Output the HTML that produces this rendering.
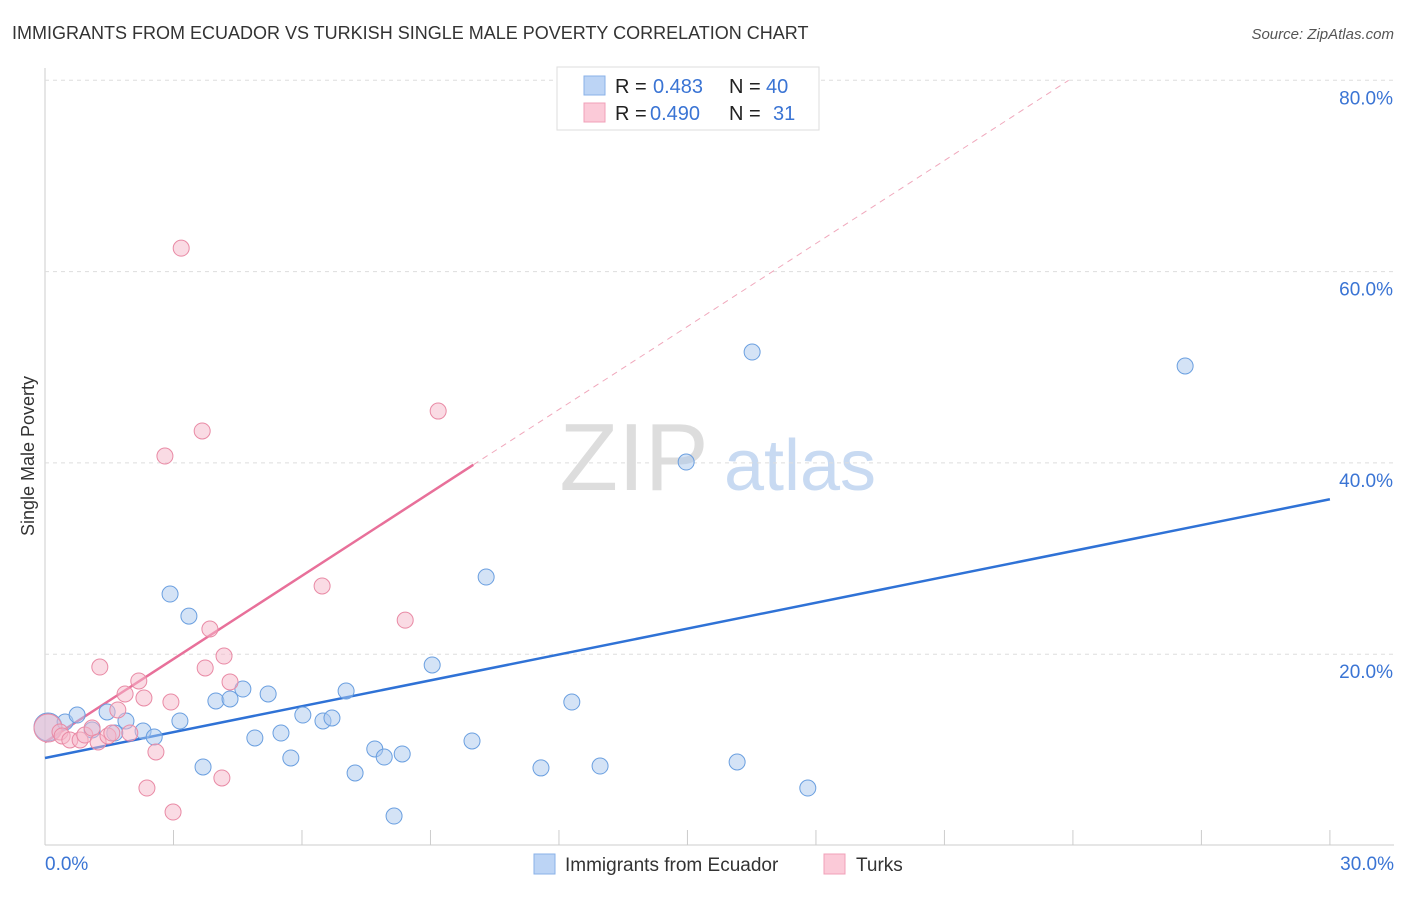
<!DOCTYPE html>
<html><head><meta charset="utf-8"><style>
body{margin:0;background:#fff;font-family:"Liberation Sans",sans-serif;}
svg text{font-family:"Liberation Sans",sans-serif;}
</style></head><body>
<svg id="c" width="1406" height="892" xmlns="http://www.w3.org/2000/svg">
<text x="12" y="39" font-size="18" fill="#333">IMMIGRANTS FROM ECUADOR VS TURKISH SINGLE MALE POVERTY CORRELATION CHART</text>
<text x="1394" y="39" font-size="15" fill="#555" font-style="italic" text-anchor="end">Source: ZipAtlas.com</text>
<text x="634" y="490" font-size="96" fill="#ddd" font-family="Liberation Serif" text-anchor="middle">ZIP</text>
<text x="800" y="490" font-size="72" fill="#c8daf2" text-anchor="middle">atlas</text>
<text x="34" y="456" font-size="18" fill="#333" text-anchor="middle" transform="rotate(-90 34 456)">Single Male Poverty</text>
<g id="grid"></g><g id="lines"></g><g id="pts"></g>
<g>
<rect x="557" y="67" width="262" height="63" fill="#fff" stroke="#ddd"/>
<rect x="584" y="76" width="21" height="19" fill="#bcd4f5" stroke="#8ab2e8"/>
<text x="615" y="93" font-size="20" fill="#222">R = </text><text x="653" y="93" font-size="20" fill="#3a74d4">0.483</text>
<text x="729" y="93" font-size="20" fill="#222">N = </text><text x="766" y="93" font-size="20" fill="#3a74d4">40</text>
<rect x="584" y="103" width="21" height="19" fill="#fbcad8" stroke="#f0a0b8"/>
<text x="615" y="120" font-size="20" fill="#222">R = </text><text x="650" y="120" font-size="20" fill="#3a74d4">0.490</text>
<text x="729" y="120" font-size="20" fill="#222">N = </text><text x="773" y="120" font-size="20" fill="#3a74d4">31</text>
</g>
<g>
<rect x="534" y="854" width="21" height="20" fill="#bcd4f5" stroke="#8ab2e8"/>
<text x="565" y="871" font-size="19" fill="#333">Immigrants from Ecuador</text>
<rect x="824" y="854" width="21" height="20" fill="#fbcad8" stroke="#f0a0b8"/>
<text x="856" y="871" font-size="19" fill="#333">Turks</text>
</g>
</svg>
<script>
const blueX=[0.07,0.47,0.75,1.10,1.45,1.63,1.89,2.29,2.55,2.92,3.15,3.36,3.69,3.99,4.32,4.62,4.90,5.21,5.51,5.74,6.02,6.49,6.70,7.03,7.24,7.70,7.92,8.34,8.15,9.04,9.97,10.30,11.58,12.30,12.96,14.97,16.16,16.51,17.81,26.62];
const blueY=[12.39,12.91,13.64,12.08,13.96,11.76,13.02,11.97,11.34,26.29,13.02,23.98,8.21,15.11,15.32,16.36,11.24,15.84,11.76,9.15,13.64,13.02,13.33,16.15,7.58,10.09,9.25,9.57,3.08,18.87,10.93,28.07,8.11,15.00,8.31,40.09,8.73,51.59,6.01,50.13];
const pinkX=[0.07,0.35,0.40,0.58,0.82,0.93,1.10,1.24,1.28,1.47,1.56,1.70,1.87,1.98,2.19,2.31,2.38,2.59,2.80,2.94,2.99,3.18,3.67,3.74,3.85,4.13,4.18,4.32,6.47,8.41,9.18];
const pinkY=[12.28,11.87,11.45,11.03,11.03,11.55,12.28,10.82,18.66,11.45,11.76,14.17,15.84,11.76,17.20,15.42,6.01,9.78,40.72,15.00,3.50,62.45,43.34,18.56,22.63,7.06,19.81,17.10,27.13,23.56,45.42];
const blueTrend=[[0,9.15],[30,36.2]];
const pinkTrend=[[0,10.8],[10.0,39.8]];
const pinkDash=[[10.0,39.8],[23.9,80]];
const yTicks=[20,40,60,80];
const xTickVals=[3,6,9,12,15,18,21,24,27,30];
const sx=v=>45+v*42.83, sy=v=>845.5-v*9.565;
const NS="http://www.w3.org/2000/svg";
function mk(p,t,a){const e=document.createElementNS(NS,t);for(const k in a)e.setAttribute(k,a[k]);p.appendChild(e);return e;}
const g=document.getElementById('grid');
const ax=mk(g,'line',{x1:45,y1:68,x2:45,y2:845,stroke:'#ccc'});

const bx=mk(g,'line',{x1:45,y1:845,x2:1394,y2:845,stroke:'#ccc'});

yTicks.forEach(v=>{const l=mk(g,'line',{x1:45,y1:sy(v),x2:1394,y2:sy(v),stroke:'#ddd','stroke-dasharray':'4,4'});

const t=mk(g,'text',{x:1393,y:sy(v)+24,'font-size':19,fill:'#3a74d4','text-anchor':'end'});t.textContent=v.toFixed(1)+'%';
});
xTickVals.forEach(v=>{const l=mk(g,'line',{x1:sx(v),y1:830,x2:sx(v),y2:845,stroke:'#ccc'});
});
const t0=mk(g,'text',{x:45,y:870,'font-size':19,fill:'#3a74d4'});t0.textContent='0.0%';

const t1=mk(g,'text',{x:1394,y:870,'font-size':19,fill:'#3a74d4','text-anchor':'end'});t1.textContent='30.0%';

const pg=document.getElementById('pts');
function pts(X,Y,fill,stroke,name){X.forEach((x,i)=>{const c=mk(pg,'circle',{cx:sx(x),cy:sy(Y[i]),r:i===0?14:8,fill:fill,'fill-opacity':0.5,stroke:stroke,'stroke-width':1});
});}
pts(blueX,blueY,'#a9c8ee','#6a9fe0','ecuador-point');
pts(pinkX,pinkY,'#f6b8ca','#e98aa5','turks-point');
const lg=document.getElementById('lines');
function ln(d,st,w,dash,name){const l=mk(lg,'line',{x1:sx(d[0][0]),y1:sy(d[0][1]),x2:sx(d[1][0]),y2:sy(d[1][1]),stroke:st,'stroke-width':w});if(dash)l.setAttribute('stroke-dasharray',dash);
}
ln(pinkDash,'#f0a8bc',1,'6,5','turks-trend-extension');
ln(blueTrend,'#2f72d6',2.5,null,'ecuador-trend-line');
ln(pinkTrend,'#e8709a',2.5,null,'turks-trend-line');
</script>
</body></html>
